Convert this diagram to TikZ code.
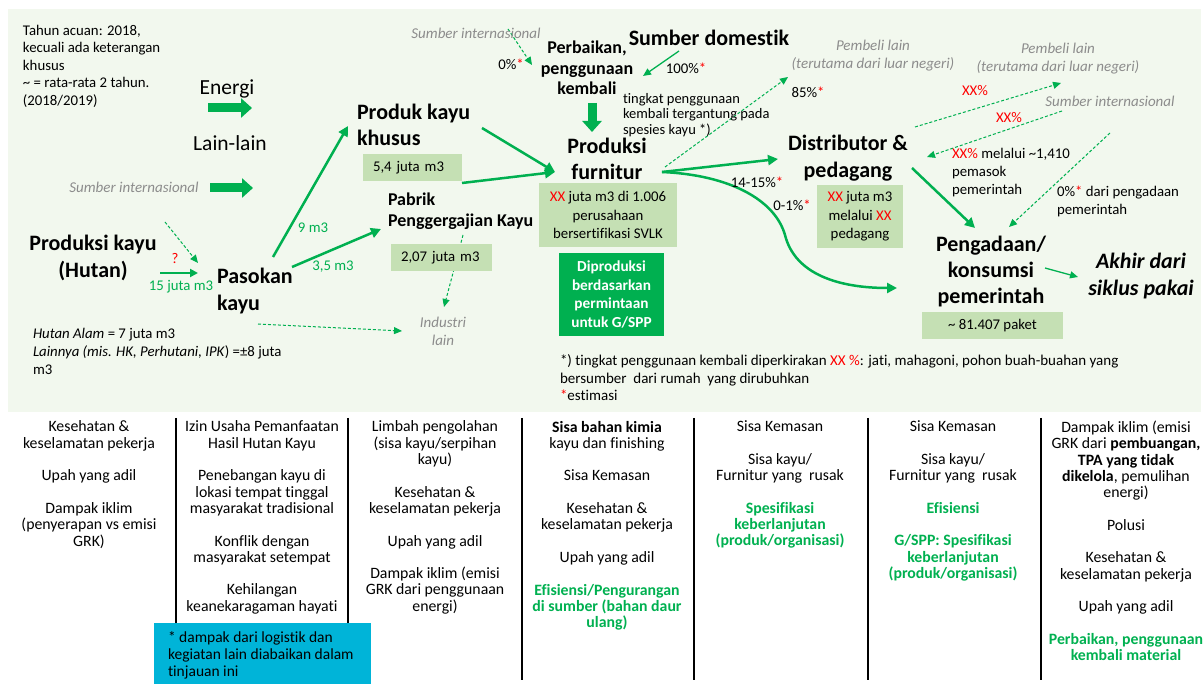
\documentclass[tikz,border=0pt]{standalone}
\usepackage{fontspec}
\setmainfont[Ligatures={NoCommon}]{Carlito}
\usetikzlibrary{arrows.meta}
\definecolor{gr}{HTML}{00B050}
\definecolor{panel}{HTML}{F2F8EE}
\definecolor{lbox}{HTML}{C5E0B4}
\definecolor{gry}{HTML}{8C8C8C}
\definecolor{cyanbox}{HTML}{00B4D8}
\definecolor{rd}{HTML}{FF0000}
\newcommand\fsz[2]{\fontsize{#1}{#2}\selectfont}
\newcommand\rs{\textcolor{rd}{*}}
\newcommand\rx{\textcolor{rd}{XX}}
\newcommand\gb[1]{\textcolor{gr}{\bfseries #1}}
\begin{document}
\begin{tikzpicture}[x=1pt,y=-1pt,
  every node/.style={inner sep=0pt, outer sep=0pt},
  t14/.style={font=\fsz{14.8}{17.5}},
  gi/.style={font=\itshape\fsz{15}{18}, text=gry, align=center},
  main/.style={font=\bfseries\fsz{22}{26.5}, align=center},
  lb/.style={fill=lbox, font=\fsz{14.8}{18.5}, align=center},
  bt/.style={font=\fsz{15.8}{16.3}, align=center, anchor=north},
  glab/.style={font=\fsz{14.8}{17}, text=gr},
  arr/.style={draw=gr, line width=2.5pt, -{Triangle[width=10pt,length=10pt]}},
  thinarr/.style={draw=gr, line width=1.3pt, -{Triangle[width=7pt,length=8pt]}},
  dasharr/.style={draw=gr, line width=1pt, dash pattern=on 3pt off 2pt, -{Triangle[width=7pt,length=8pt]}},
  blockarr/.style={draw=gr, line width=9pt, -{Triangle[width=19pt,length=11pt]}},
  vline/.style={draw=black, line width=1.3pt}
]
\useasboundingbox (0,0) rectangle (1203,684);
\fill[panel] (8,9) rectangle (1201,412);

% ---------- coordinates for connector ends ----------
\coordinate (e1) at (208,108); \coordinate (e2) at (252,108);
\coordinate (l1) at (210,188); \coordinate (l2) at (253,188);
\coordinate (h1) at (160,273); \coordinate (h2) at (198,273);
\coordinate (q1) at (165,222); \coordinate (q2) at (198,263);
\coordinate (p9a) at (273,257); \coordinate (p9b) at (348,126);
\coordinate (p35a) at (292,267); \coordinate (p35b) at (381,229);
\coordinate (pia) at (258,324); \coordinate (pib) at (402,331);
\coordinate (pba) at (463,235); \coordinate (pbb) at (444,307);
\coordinate (kfa) at (482,128); \coordinate (pfa) at (462,183); \coordinate (fin) at (555,172);
\coordinate (s2a) at (508,29); \coordinate (s2b) at (532,65);
\coordinate (sda) at (679,51); \coordinate (sdb) at (643,76);
\coordinate (bda) at (592,103); \coordinate (bdb) at (592,132);
\coordinate (fo) at (662,172); \coordinate (fd) at (665,167);
\coordinate (pb1) at (788,77);
\coordinate (di) at (778,159);
\coordinate (cm) at (785,235); \coordinate (pg) at (897,288);
\coordinate (x1a) at (915,127); \coordinate (x1b) at (1061,83);
\coordinate (x2a) at (1062,111); \coordinate (x2b) at (927,157);
\coordinate (x3a) at (1110,133); \coordinate (x3b) at (1009,227);
\coordinate (dpa) at (912,168); \coordinate (dpb) at (975,228);
\coordinate (aka) at (1045,268); \coordinate (akb) at (1078,277);

% ---------- dashed connectors (behind boxes) ----------
\draw[dasharr] (q1) -- (q2);
\draw[dasharr] (pia) -- (pib);
\draw[dasharr] (pba) -- (pbb);
\draw[dasharr] (s2a) -- (s2b);
\draw[dasharr] (fd) -- (pb1);
\draw[dasharr] (x1a) -- (x1b);
\draw[dasharr] (x2a) -- (x2b);
\draw[dasharr] (x3a) -- (x3b);

% ---------- left part ----------
\node[t14, anchor=north west, align=left] (note) at (23,25) {Tahun acuan: 2018,\\kecuali ada keterangan\\khusus\\\textasciitilde{} = rata-rata 2 tahun.\\(2018/2019)};
\node[font=\fsz{21.5}{25}] (energi) at (227,89) {Energi};
\node[font=\fsz{21.5}{25}] (lain) at (230,143) {Lain-lain};
\node[gi] (sumint1) at (134,187) {Sumber internasional};
\draw[blockarr] (e1) -- (e2);
\draw[blockarr] (l1) -- (l2);

\node[main] (hutan) at (93,258) {Produksi kayu\\(Hutan)};
\draw[arr, line width=2pt, -{Triangle[width=8pt,length=8pt]}] (h1) -- (h2);
\node[font=\fsz{14.8}{17}, text=rd] (qm) at (175,258) {?};
\node[glab] (l15) at (181,287) {15 juta m3};

\node[main, anchor=west, align=left] (pasokan) at (217,291) {Pasokan\\kayu};
\node[font=\fsz{14.8}{18}, anchor=north west, align=left] (hnote) at (33,328) {\textit{Hutan Alam} = 7 juta m3\\\textit{Lainnya (mis. HK, Perhutani, IPK}) =±8 juta\\m3};
\node[gi] (industri) at (443,331) {Industri\\lain};

\node[main, anchor=west, align=left] (produk) at (357,125) {Produk kayu\\khusus};
\node[lb, anchor=north west, minimum width=99pt, minimum height=27pt, text width=79pt, inner xsep=10pt, align=left] (b54) at (363,154) {5,4 juta m3};
\draw[arr] (p9a) -- (p9b);
\node[glab] (l9) at (313,228) {9 m3};
\draw[arr] (p35a) -- (p35b);
\node[glab] (l35) at (333,267) {3,5 m3};

\node[font=\bfseries\fsz{18}{21}, anchor=west, align=left] (pabrik) at (388,211) {Pabrik\\Penggergajian Kayu};
\node[lb, anchor=north west, minimum width=101pt, minimum height=27pt, text width=81pt, inner xsep=10pt, align=left] (b207) at (391,244) {2,07 juta m3};
\draw[arr] (kfa) -- (fin);
\draw[arr] (pfa) -- (fin);

% ---------- middle part ----------
\node[gi] (sumint2) at (476,33) {Sumber internasional};
\node[t14] (p0) at (511,64) {0\%\rs};
\node[font=\bfseries\fsz{18}{20.5}, align=center] (perbaikan) at (587,68) {Perbaikan,\\penggunaan\\kembali};
\node[font=\bfseries\fsz{22}{26}] (sumdom) at (709,38) {Sumber domestik};
\draw[thinarr] (sda) -- (sdb);
\node[t14] (p100) at (686,68) {100\%\rs};
\draw[blockarr] (bda) -- (bdb);
\node[font=\fsz{14.5}{15.5}, anchor=north west, align=left] (tingkat) at (623,93) {tingkat penggunaan\\kembali tergantung pada\\spesies kayu *)};
\node[main, font=\bfseries\fsz{22}{26}] (furnitur) at (607,159) {Produksi\\furnitur};
\node[lb, anchor=north west, minimum width=138pt, minimum height=64pt] (bsvlk) at (539,183) {\rx{} juta m3 di 1.006\\perusahaan\\bersertifikasi SVLK};
\node[anchor=north west, fill=gr, minimum width=105pt, minimum height=83pt, text=white, font=\bfseries\fsz{15.3}{18.5}, align=center] (gspp) at (559,253) {Diproduksi\\berdasarkan\\permintaan\\untuk G/SPP};
\node[font=\fsz{15}{17.5}, anchor=north west, align=left] (foot) at (560,355) {*) tingkat penggunaan kembali diperkirakan \textcolor{rd}{XX \%}: jati, mahagoni, pohon buah-buahan yang\\bersumber\ \ dari rumah\ \ yang dirubuhkan\\\rs estimasi};

% ---------- right part ----------
\node[gi] (pembeli1) at (873,56) {Pembeli lain\\(terutama dari luar negeri)};
\node[t14] (p85) at (808,92) {85\%\rs};
\draw[arr] (fo) -- (di);
\draw[arr] (fo) .. controls (730,175) and (775,200) .. (cm) .. controls (795,275) and (840,288) .. (pg);
\node[t14] (p1415) at (757,182) {14-15\%\rs};
\node[t14] (p01) at (792,205) {0-1\%\rs};
\node[main, font=\bfseries\fsz{22}{27}] (distrib) at (848,158) {Distributor \&\\pedagang};
\node[lb, anchor=north west, minimum width=86pt, minimum height=63pt] (bxx) at (817,185) {\rx{} juta m3\\melalui \rx\\pedagang};

\node[gi] (pembeli2) at (1058,59) {Pembeli lain\\(terutama dari luar negeri)};
\node[gi] (sumint3) at (1110,101) {Sumber internasional};
\node[t14, text=rd] (xx1) at (975,91) {XX\%};
\node[t14, text=rd] (xx2) at (1009,118) {XX\%};
\node[font=\fsz{14.8}{18}, anchor=north west, align=left] (melalui) at (952,148) {\textcolor{rd}{XX\%} melalui \textasciitilde1,410\\pemasok\\pemerintah};
\node[font=\fsz{14.8}{18}, anchor=north west, align=left] (p0b) at (1057,186) {0\%\rs{} dari pengadaan\\pemerintah};
\draw[arr] (dpa) -- (dpb);
\node[main, font=\bfseries\fsz{22}{26}] (pengadaan) at (991,272) {Pengadaan/\\konsumsi\\pemerintah};
\node[lb, anchor=north west, minimum width=141pt, minimum height=27pt] (bpaket) at (922,312) {\textasciitilde{} 81.407 paket};
\draw[thinarr] (aka) -- (akb);
\node[font=\bfseries\itshape\fsz{22}{27}, align=center] (akhir) at (1141,276) {Akhir dari\\siklus pakai};

% ---------- bottom table ----------
\foreach \x/\n in {176/v1,348/v2,522/v3,694/v4,868/v5,1041/v6}{
  \coordinate (\n t) at (\x,418); \coordinate (\n b) at (\x,680);
  \draw[vline] (\n t) -- (\n b);
}
\node[bt] (c1) at (89,421) {Kesehatan \&\\keselamatan pekerja\\[16.3pt]Upah yang adil\\[16.3pt]Dampak iklim\\(penyerapan vs emisi\\GRK)};
\node[bt] (c2) at (262,421) {Izin Usaha Pemanfaatan\\Hasil Hutan Kayu\\[16.3pt]Penebangan kayu di\\lokasi tempat tinggal\\masyarakat tradisional\\[16.3pt]Konflik dengan\\masyarakat setempat\\[16.3pt]Kehilangan\\keanekaragaman hayati};
\node[bt] (c3) at (435,421) {Limbah pengolahan\\(sisa kayu/serpihan\\kayu)\\[16.3pt]Kesehatan \&\\keselamatan pekerja\\[16.3pt]Upah yang adil\\[16.3pt]Dampak iklim (emisi\\GRK dari penggunaan\\energi)};
\node[bt] (c4) at (607,421) {\textbf{Sisa bahan kimia}\\kayu dan finishing\\[16.3pt]Sisa Kemasan\\[16.3pt]Kesehatan \&\\keselamatan pekerja\\[16.3pt]Upah yang adil\\[16.3pt]\gb{Efisiensi/Pengurangan}\\\gb{di sumber (bahan daur}\\\gb{ulang)}};
\node[bt] (c5) at (780,421) {Sisa Kemasan\\[16.3pt]Sisa kayu/\\Furnitur yang\ \ rusak\\[16.3pt]\gb{Spesifikasi}\\\gb{keberlanjutan}\\\gb{(produk/organisasi)}};
\node[bt] (c6) at (953,421) {Sisa Kemasan\\[16.3pt]Sisa kayu/\\Furnitur yang\ \ rusak\\[16.3pt]\gb{Efisiensi}\\[16.3pt]\gb{G/SPP: Spesifikasi}\\\gb{keberlanjutan}\\\gb{(produk/organisasi)}};
\node[bt] (c7) at (1126,421) {Dampak iklim (emisi\\GRK dari \textbf{pembuangan,}\\\textbf{TPA yang tidak}\\\textbf{dikelola}, pemulihan\\energi)\\[16.3pt]Polusi\\[16.3pt]Kesehatan \&\\keselamatan pekerja\\[16.3pt]Upah yang adil\\[16.3pt]\gb{Perbaikan, penggunaan}\\\gb{kembali material}};

\node[anchor=north west, fill=cyanbox, minimum width=217pt, minimum height=61pt] (cyan) at (154,623) {};
\node[anchor=north west, font=\fsz{15.5}{17.2}, align=left] (cyant) at (168,631) {* dampak dari logistik dan\\kegiatan lain diabaikan dalam\\tinjauan ini};
\end{tikzpicture}
\end{document}
